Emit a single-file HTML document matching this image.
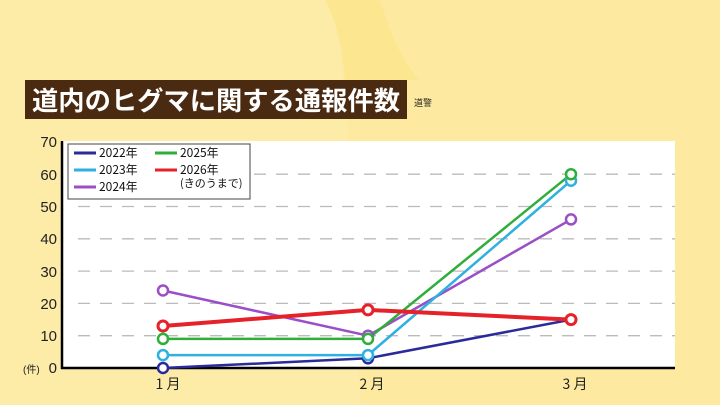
<!DOCTYPE html>
<html><head><meta charset="utf-8"><style>
body{margin:0;width:720px;height:405px;overflow:hidden;background:#fde8a0;font-family:"Liberation Sans","Noto Sans CJK JP",sans-serif;}
</style></head><body>
<svg width="720" height="405" viewBox="0 0 720 405" xmlns="http://www.w3.org/2000/svg" style="position:absolute;left:0;top:0">
<rect width="720" height="405" fill="#fde9a0"/>
<path d="M0,0 L330,0 C345,60 350,120 360,405 L0,405Z" fill="#fdeba8"/>
<path d="M325,0 L380,0 C390,30 400,60 420,80 L345,80 C343,50 338,25 325,0Z" fill="#fde690"/>
<rect x="25" y="80" width="382" height="39" fill="#4a2a10"/>
<text x="32" y="110" font-size="26" font-weight="bold" fill="#fff" textLength="368" lengthAdjust="spacingAndGlyphs" font-family="'Noto Sans CJK JP',sans-serif">道内のヒグマに関する通報件数</text>
<text x="414" y="106" font-size="9" fill="#222" font-family="'Noto Sans CJK JP',sans-serif">道警</text>
<rect x="62" y="141" width="613" height="227" fill="#fff"/>
<g stroke="#bbb" stroke-width="1.3" stroke-dasharray="12,10">
<line x1="78" x2="675" y1="335.7" y2="335.7"/><line x1="78" x2="675" y1="303.4" y2="303.4"/>
<line x1="78" x2="675" y1="271.1" y2="271.1"/><line x1="78" x2="675" y1="238.8" y2="238.8"/>
<line x1="78" x2="675" y1="206.5" y2="206.5"/><line x1="78" x2="675" y1="174.2" y2="174.2"/>
</g>
<line x1="62" y1="141" x2="62" y2="369" stroke="#000" stroke-width="2.5"/>
<line x1="61" y1="368" x2="675" y2="368" stroke="#000" stroke-width="2.5"/>
<g font-size="15" fill="#222" text-anchor="end">
<text x="57" y="341">10</text><text x="57" y="309">20</text><text x="57" y="277">30</text>
<text x="57" y="244">40</text><text x="57" y="212">50</text><text x="57" y="180">60</text><text x="57" y="147">70</text>
<text x="57" y="373">0</text>
</g>
<text x="23" y="373" font-size="10" fill="#222">(件)</text>
<g font-size="14" fill="#222" text-anchor="middle" font-family="'Noto Sans CJK JP',sans-serif">
<text x="168" y="389">1 月</text><text x="372" y="389">2 月</text><text x="575" y="389">3 月</text>
</g>
<g fill="#fff" stroke-width="2.5">
<polyline points="163,368 368,358.3 571,319.6" fill="none" stroke="#2a2a9a"/>
<polyline points="163,290.5 368,335.7 571,219.4" fill="none" stroke="#9a4fc8"/>
<polyline points="163,355.1 368,355.1 571,180.7" fill="none" stroke="#2fb0e0"/>
<polyline points="163,338.9 368,338.9 571,174.2" fill="none" stroke="#2fae3a"/>
<polyline points="163,326 368,309.9 571,319.6" fill="none" stroke="#e5212a" stroke-width="4"/>
<circle cx="163" cy="368" r="5" stroke="#2a2a9a"/><circle cx="368" cy="358.3" r="5" stroke="#2a2a9a"/>
<circle cx="163" cy="290.5" r="5" stroke="#9a4fc8"/><circle cx="368" cy="335.7" r="5" stroke="#9a4fc8"/><circle cx="571" cy="219.4" r="5" stroke="#9a4fc8"/>
<circle cx="163" cy="355.1" r="5" stroke="#2fb0e0"/><circle cx="368" cy="355.1" r="5" stroke="#2fb0e0"/><circle cx="571" cy="180.7" r="5" stroke="#2fb0e0"/>
<circle cx="163" cy="338.9" r="5" stroke="#2fae3a"/><circle cx="368" cy="338.9" r="5" stroke="#2fae3a"/><circle cx="571" cy="174.2" r="5" stroke="#2fae3a"/>
<circle cx="163" cy="326" r="5" stroke="#e5212a" stroke-width="3"/><circle cx="368" cy="309.9" r="5" stroke="#e5212a" stroke-width="3"/><circle cx="571" cy="319.6" r="5" stroke="#e5212a" stroke-width="3"/>
</g>
<rect x="68" y="144" width="182" height="55" fill="#fff" stroke="#444" stroke-width="1"/>
<g stroke-width="3">
<line x1="74" x2="96" y1="153" y2="153" stroke="#2a2a9a"/>
<line x1="74" x2="96" y1="170" y2="170" stroke="#2fb0e0"/>
<line x1="74" x2="96" y1="187" y2="187" stroke="#9a4fc8"/>
<line x1="155" x2="177" y1="153" y2="153" stroke="#2fae3a"/>
<line x1="155" x2="177" y1="170" y2="170" stroke="#e5212a"/>
</g>
<g font-size="12" fill="#111" font-family="'Noto Sans CJK JP',sans-serif">
<text x="99" y="157">2022年</text><text x="99" y="174">2023年</text><text x="99" y="191">2024年</text>
<text x="180" y="157">2025年</text><text x="180" y="174">2026年</text><text x="180" y="187" font-size="11">(きのうまで)</text>
</g>
</svg>
</body></html>
